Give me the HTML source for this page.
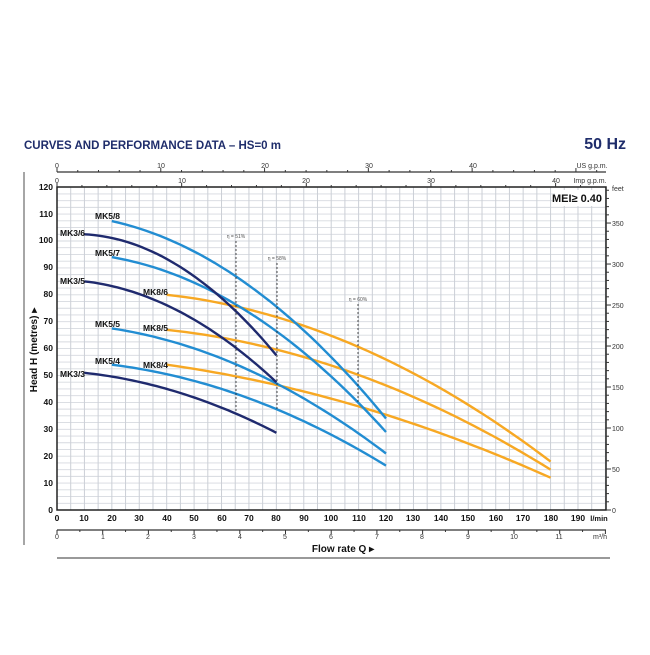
<!DOCTYPE html>
<html><head><meta charset="utf-8"><style>
body{margin:0;background:#fff;width:650px;height:650px;overflow:hidden}
svg text{font-family:"Liberation Sans",sans-serif}
</style></head><body>
<svg id="s" width="650" height="650" xmlns="http://www.w3.org/2000/svg">
<rect width="650" height="650" fill="#fff"/>
<g id="grid"></g>
<g id="curves"></g>
<text x="24" y="149" font-size="11.5" font-weight="bold" fill="#1f2d6b">CURVES AND PERFORMANCE DATA  –  HS=0 m</text>
<text x="626" y="149" font-size="16" font-weight="bold" fill="#1f2d6b" text-anchor="end">50 Hz</text>
<line x1="24" y1="172" x2="24" y2="545" stroke="#888" stroke-width="1.5"/>
<g font-size="7" fill="#333" text-anchor="middle">
<text x="57" y="168">0</text><text x="161" y="168">10</text><text x="265" y="168">20</text><text x="369" y="168">30</text><text x="473" y="168">40</text>
<text x="592" y="168">US g.p.m.</text>
<text x="57" y="183">0</text><text x="182" y="183">10</text><text x="306" y="183">20</text><text x="431" y="183">30</text><text x="556" y="183">40</text>
<text x="590" y="183">Imp g.p.m.</text>
</g>
<g font-size="8.5" font-weight="bold" fill="#111" text-anchor="end">
<text x="53" y="513">0</text><text x="53" y="486">10</text><text x="53" y="459">20</text><text x="53" y="432">30</text><text x="53" y="405">40</text><text x="53" y="378">50</text><text x="53" y="351">60</text><text x="53" y="324">70</text><text x="53" y="297">80</text><text x="53" y="270">90</text><text x="53" y="243">100</text><text x="53" y="217">110</text><text x="53" y="190">120</text>
</g>
<g font-size="8.5" font-weight="bold" fill="#111" text-anchor="middle">
<text x="57" y="521">0</text><text x="84" y="521">10</text><text x="112" y="521">20</text><text x="139" y="521">30</text><text x="167" y="521">40</text><text x="194" y="521">50</text><text x="222" y="521">60</text><text x="249" y="521">70</text><text x="276" y="521">80</text><text x="304" y="521">90</text><text x="331" y="521">100</text><text x="359" y="521">110</text><text x="386" y="521">120</text><text x="413" y="521">130</text><text x="441" y="521">140</text><text x="468" y="521">150</text><text x="496" y="521">160</text><text x="523" y="521">170</text><text x="551" y="521">180</text><text x="578" y="521">190</text>
<text x="599" y="521" font-size="7.5">l/min</text>
</g>
<g font-size="7" fill="#333" text-anchor="middle">
<text x="57" y="539">0</text><text x="103" y="539">1</text><text x="148" y="539">2</text><text x="194" y="539">3</text><text x="240" y="539">4</text><text x="285" y="539">5</text><text x="331" y="539">6</text><text x="377" y="539">7</text><text x="422" y="539">8</text><text x="468" y="539">9</text><text x="514" y="539">10</text><text x="559" y="539">11</text>
<text x="600" y="539">m³/h</text>
</g>
<g font-size="7" fill="#333">
<text x="612" y="191">feet</text><text x="612" y="226">350</text><text x="612" y="267">300</text><text x="612" y="308">250</text><text x="612" y="349">200</text><text x="612" y="390">150</text><text x="612" y="431">100</text><text x="612" y="472">50</text><text x="612" y="513">0</text>
</g>
<text x="343" y="552" font-size="10" font-weight="bold" fill="#111" text-anchor="middle">Flow rate Q  ▸</text>
<line x1="57" y1="558" x2="610" y2="558" stroke="#333" stroke-width="1"/>
<text transform="translate(37,350) rotate(-90)" font-size="10" font-weight="bold" fill="#111" text-anchor="middle">Head H (metres)  ▸</text>
<rect x="555" y="190" width="50" height="16" fill="#fff"/>
<text x="602" y="202" font-size="11" font-weight="bold" fill="#111" text-anchor="end">MEI≥ 0.40</text>
<g font-size="5" fill="#555" text-anchor="middle">
<text x="236" y="238">η = 51%</text><text x="277" y="260">η = 58%</text><text x="358" y="301">η = 60%</text>
</g>
<g stroke="#222" stroke-width="0.8" stroke-dasharray="2,2">
<line x1="236" y1="241" x2="236" y2="412"/><line x1="277" y1="263" x2="277" y2="410"/><line x1="358" y1="304" x2="358" y2="402"/>
</g>
<g font-size="8.5" font-weight="bold" fill="#111">
<text x="95" y="219">MK5/8</text><text x="60" y="236">MK3/6</text><text x="95" y="256">MK5/7</text><text x="60" y="284">MK3/5</text><text x="143" y="295">MK8/6</text><text x="95" y="327">MK5/5</text><text x="143" y="331">MK8/5</text><text x="95" y="364">MK5/4</text><text x="143" y="368">MK8/4</text><text x="60" y="377">MK3/3</text>
</g>
</svg>
<script>
var NS="http://www.w3.org/2000/svg";
function X(q){return 57+2.742*q}function Y(h){return 510-2.69*h}
function el(p,t,a){var e=document.createElementNS(NS,t);for(var k in a)e.setAttribute(k,a[k]);p.appendChild(e);return e}
var g=document.getElementById("grid");
el(g,"rect",{x:57,y:187,width:549,height:323,fill:"#fff"});
for(var h=0;h<=120;h+=2.5)el(g,"line",{x1:57,x2:606,y1:Y(h),y2:Y(h),stroke:"#d6d9df","stroke-width":0.9});
for(var q=0;q<=200;q+=5)el(g,"line",{x1:X(q),x2:X(q),y1:187,y2:510,stroke:"#cbcfd6","stroke-width":1});
el(g,"rect",{x:57,y:187,width:549,height:323,fill:"none",stroke:"#222","stroke-width":1.5});
el(g,"line",{x1:57,x2:606,y1:172,y2:172,stroke:"#333","stroke-width":1.2});
for(var i=0;i<=52;i+=2)el(g,"line",{x1:X(i*3.785),x2:X(i*3.785),y1:172,y2:i%10==0?168:170,stroke:"#333"});
for(var i=0;i<=42;i+=2)el(g,"line",{x1:X(i*4.546),x2:X(i*4.546),y1:187,y2:i%10==0?183:185,stroke:"#333"});
el(g,"line",{x1:57,x2:606,y1:530,y2:530,stroke:"#333","stroke-width":1.2});
for(var i=0;i<=12;i+=0.5)el(g,"line",{x1:X(i*16.667),x2:X(i*16.667),y1:530,y2:i%1==0?534:532,stroke:"#333"});
for(var f=0;f<=390;f+=10){var y=510-0.8199*f;el(g,"line",{x1:606,x2:f%50==0?611:609,y1:y,y2:y,stroke:"#333"});}
var c=document.getElementById("curves");
function fit(p){var x1=p[0][0],y1=p[0][1],x2=p[1][0],y2=p[1][1],x3=p[2][0],y3=p[2][1];
var d=(x1-x2)*(x1-x3)*(x2-x3);var A=(x3*(y2-y1)+x2*(y1-y3)+x1*(y3-y2))/d;var B=(x3*x3*(y1-y2)+x2*x2*(y3-y1)+x1*x1*(y2-y3))/d;var C=(x2*x3*(x2-x3)*y1+x3*x1*(x3-x1)*y2+x1*x2*(x1-x2)*y3)/d;
var s="";for(var k=0;k<=40;k++){var q=x1+(x3-x1)*k/40;var hh=A*q*q+B*q+C;s+=(k?"L":"M")+X(q).toFixed(1)+","+Y(hh).toFixed(1);}return s}
var O="#f7a823",L="#228dd2",D="#1f2a6e";
var cs=[
[O,[[40,80],[110,60.6],[180,18]]],[O,[[40,67],[110,50.2],[180,15]]],[O,[[40,54],[110,38.5],[180,12]]],
[L,[[20,107.4],[65.6,86.6],[120,34]]],[L,[[20,94],[80.6,66],[120,29]]],[L,[[20,67.5],[65.6,54],[120,21]]],[L,[[20,54],[80,37.5],[120,16.5]]],
[D,[[10,102.5],[47,89],[80,57.5]]],[D,[[10,85],[47,72.5],[80,47.5]]],[D,[[10,51],[45,43.5],[80,28.7]]]];
cs.forEach(function(a){el(c,"path",{d:fit(a[1]),fill:"none",stroke:a[0],"stroke-width":2.4})});
</script>
</body></html>
